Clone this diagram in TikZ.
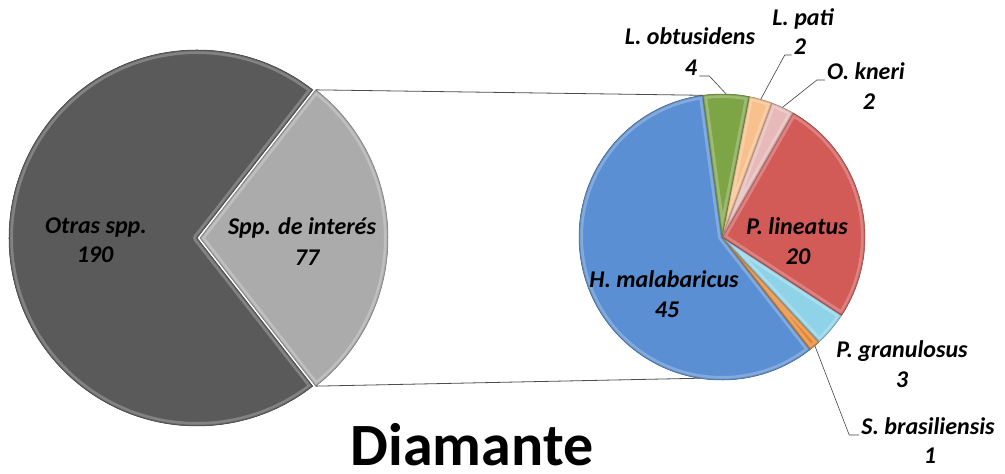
\documentclass[tikz,border=0pt]{standalone}
\usepackage{fontspec}
\setmainfont{Carlito}
\definecolor{cdark}{HTML}{5A5A5A}
\definecolor{clight}{HTML}{ABABAB}
\definecolor{cblue}{HTML}{5A8FD3}
\definecolor{cred}{HTML}{D25A57}
\definecolor{cgreen}{HTML}{7DA445}
\definecolor{cpati}{HTML}{F8C08D}
\definecolor{cpink}{HTML}{E8B9B9}
\definecolor{ccyan}{HTML}{8ED3E8}
\definecolor{corange}{HTML}{E5862F}
\newcommand\pslice[6]{%
  \begin{scope}
    \clip (#1,#2) -- ++(#4:#3) arc[start angle=#4,end angle=#5,radius=#3] -- cycle;
    \fill[#6] (#1,#2) -- ++(#4:#3) arc[start angle=#4,end angle=#5,radius=#3] -- cycle;
    \draw[#6!55!white, line width=8pt, opacity=0.55, line join=round] (#1,#2) -- ++(#4:#3) arc[start angle=#4,end angle=#5,radius=#3] -- cycle;
    \draw[#6!80!black, line width=2.5pt, opacity=0.5, line join=round] (#1,#2) -- ++(#4:#3) arc[start angle=#4,end angle=#5,radius=#3] -- cycle;
  \end{scope}
  \draw[#6!70!black, line width=0.5pt, line join=round] (#1,#2) -- ++(#4:#3) arc[start angle=#4,end angle=#5,radius=#3] -- cycle;
}
\tikzset{
  lbl/.style={anchor=base, inner sep=2pt, font=\fontsize{24}{29}\selectfont\bfseries\itshape},
  ttl/.style={anchor=base, inner sep=0pt, font=\fontsize{60}{60}\selectfont\bfseries},
  leader/.style={draw=black!75, line width=0.6pt},
  link/.style={draw=black!70, line width=0.8pt}
}
\begin{document}
\begin{tikzpicture}[x=1pt,y=1pt]
\useasboundingbox (0,0) rectangle (1005,474);
% left pie
\pslice{197}{236}{188}{52}{308}{cdark}
\pslice{200}{236}{188}{-52}{52}{clight}
% right pie
\pslice{722}{237}{143}{97.7}{308.1}{cblue}
\pslice{722}{237}{143}{308.1}{312.8}{corange}
\pslice{722}{237}{143}{312.8}{326.8}{ccyan}
\pslice{722}{237}{143}{326.8}{420.3}{cred}
\pslice{722}{237}{143}{60.3}{69.6}{cpink}
\pslice{722}{237}{143}{69.6}{79.0}{cpati}
\pslice{722}{237}{143}{79.0}{97.7}{cgreen}
% coordinates
\path (200,236) ++(52:188) coordinate (lt);
\path (200,236) ++(-52:188) coordinate (lb);
\path (722,237) ++(97.7:143) coordinate (rt);
\path (722,237) ++(261:143) coordinate (rb);
\path (722,237) ++(88.3:143) coordinate (cobt);
\path (722,237) ++(74.3:143) coordinate (cpat);
\path (722,237) ++(65:143) coordinate (ckne);
\path (722,237) ++(310.5:143) coordinate (cbra);
% connectors between pies
\draw[link] (lt) -- (rt);
\draw[link] (lb) -- (rb);
% labels
\node[lbl] (otras) at (96,240) {Otras spp.};
\node[lbl] (otrasn) at (95,211) {190};
\node[lbl] (spp) at (302,239) {Spp. de interés};
\node[lbl] (sppn) at (307,208) {77};
\node[lbl] (hmal) at (664,186) {H. malabaricus};
\node[lbl] (hmaln) at (667,156) {45};
\node[lbl] (plin) at (797,239) {P. lineatus};
\node[lbl] (plinn) at (798,209) {20};
\node[lbl] (lobt) at (690,429) {L. obtusidens};
\node[lbl] (lobtn) at (691,398) {4};
\node[lbl] (lpat) at (803,448) {L. pati};
\node[lbl] (lpatn) at (800,419) {2};
\node[lbl] (okne) at (866,394) {O. kneri};
\node[lbl] (oknen) at (869,364) {2};
\node[lbl] (pgra) at (902,116) {P. granulosus};
\node[lbl] (pgran) at (902,86) {3};
\node[lbl] (sbra) at (928,39) {S. brasiliensis};
\node[lbl] (sbran) at (930,10) {1};
% leaders
\draw[leader] (lobtn.base east) -- ++(10,0) -- (cobt);
\draw[leader] (lpatn.base west) -- ++(-7,0) -- (cpat);
\draw[leader] (okne.base west) -- ++(-8,0) -- (ckne);
\draw[leader] (sbra.base west) -- ++(-10,0) -- (cbra);
% title
\node[ttl] (title) at (472,8) {Diamante};
\end{tikzpicture}
\end{document}
